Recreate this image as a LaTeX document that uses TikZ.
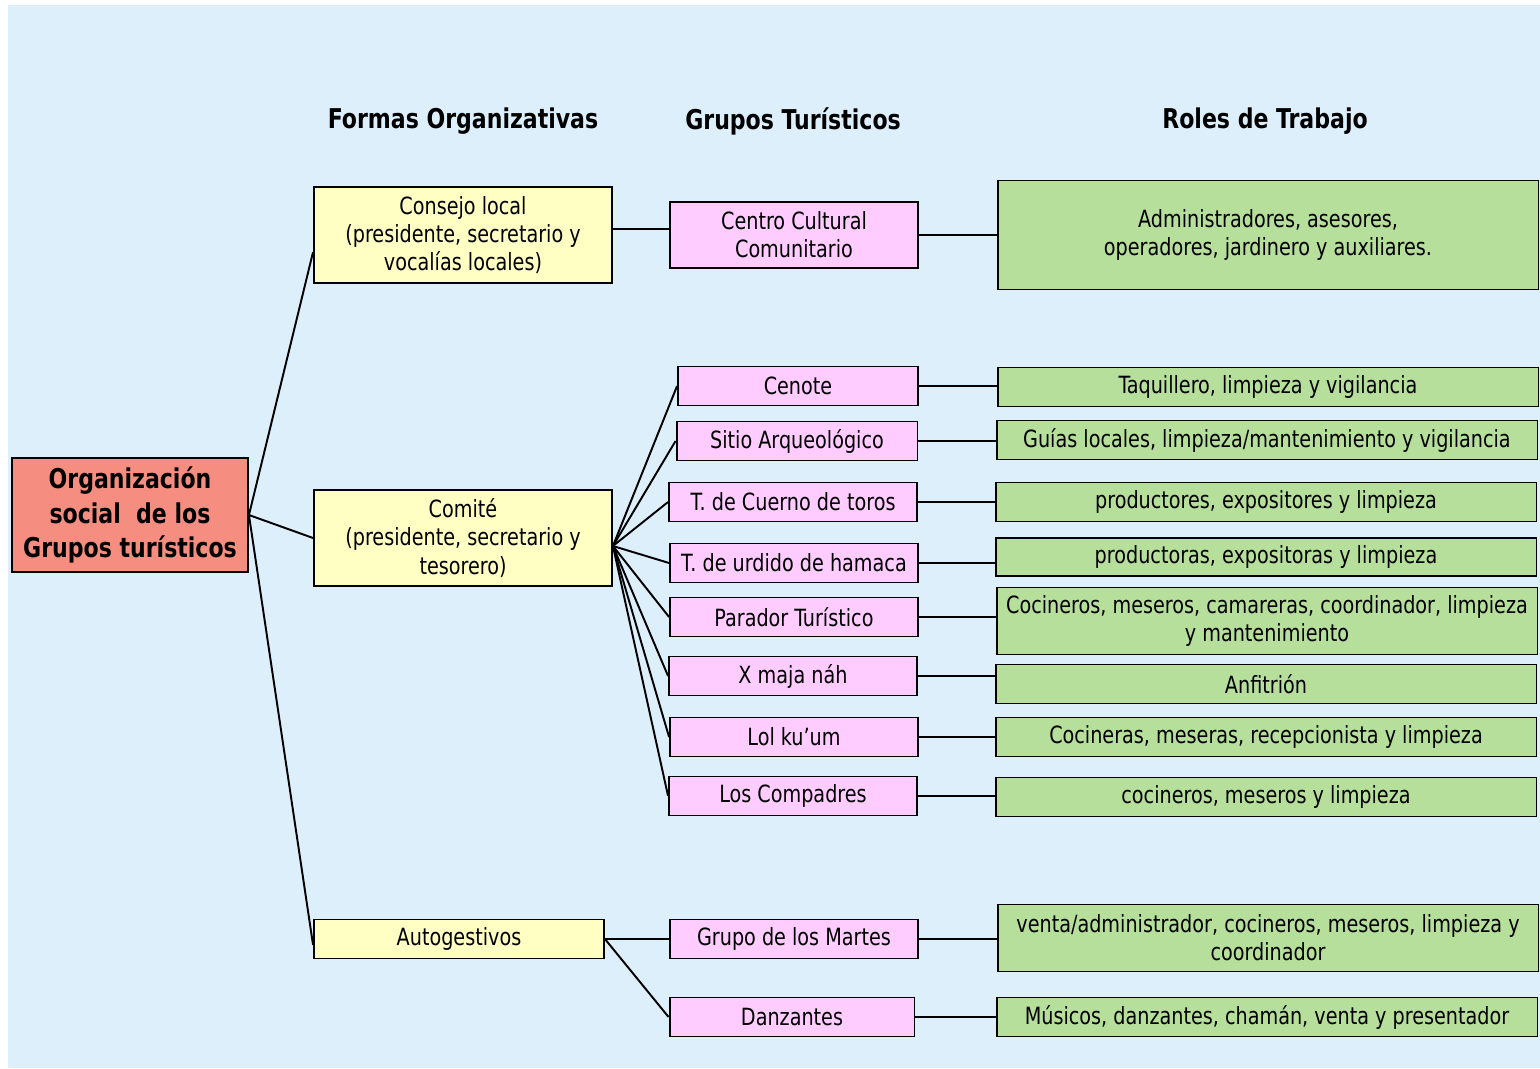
\documentclass[tikz,border=0pt]{standalone}
\usepackage{fontspec}
\setmainfont{DejaVu Sans Condensed}[FakeStretch=0.9]
\usepackage{xcolor}
\usetikzlibrary{positioning}

\definecolor{fondo}{HTML}{DEEFFC}
\definecolor{raizcol}{HTML}{F58D80}
\definecolor{formacol}{HTML}{FFFFC4}
\definecolor{grupocol}{HTML}{FFCCFF}
\definecolor{rolcol}{HTML}{B7DF9C}

\begin{document}
\begin{tikzpicture}
    [x=0.02cm, y=-0.02cm,
      every node/.style={draw, line width=1.1pt, inner sep=2pt, align=center,
        font=\fontsize{13.5}{16}\selectfont},
      titulo/.style={draw=none, font=\bfseries\fontsize{15.5}{19}\selectfont},
      raiz/.style={fill=raizcol, minimum width=4.72cm, minimum height=2.28cm,
        font=\bfseries\fontsize{15.5}{19.5}\selectfont},
      forma/.style={fill=formacol, minimum width=5.96cm, minimum height=0.78cm},
      grupo/.style={fill=grupocol, minimum width=4.96cm, minimum height=0.78cm},
      rol/.style={fill=rolcol, minimum width=10.82cm, minimum height=0.78cm},
      enlace/.style={line width=1.1pt}]
    % fondo
    \useasboundingbox (0,0) rectangle (1540,1068);
    \fill[fondo] (8,5) rectangle (1540,1068);

    % titulos
    \node[titulo] (tforma) at (463,121) {Formas Organizativas};
    \node[titulo] (tgrupo) at (793,121) {Grupos Turísticos};
    \node[titulo] (trol) at (1265,121) {Roles de Trabajo};

    % raiz y formas
    \node[raiz] (raiz) at (130,515) {Organización\\social\ \ de los\\Grupos turísticos};
    \node[forma, minimum height=1.92cm] (consejo) at (463,235)
      {Consejo local\\(presidente, secretario y\\vocalías locales)};
    \node[forma, minimum height=1.92cm] (comite) at (463,538)
      {Comité\\(presidente, secretario y\\tesorero)};
    \node[forma, minimum width=5.8cm] (autog) at (459,939) {Autogestivos};

    % grupos
    \node[grupo, minimum height=1.32cm] (centro) at (794,235) {Centro Cultural\\Comunitario};
    \node[grupo, minimum width=4.8cm] (cenote) at (798,386) {Cenote};
    \node[grupo, minimum width=4.82cm] (sitio) at (797,441) {Sitio Arqueológico};
    \node[grupo] (cuerno) at (793,502) {T. de Cuerno de toros};
    \node[grupo] (hamaca) at (794,563) {T. de urdido de hamaca};
    \node[grupo] (parador) at (794,617) {Parador Turístico};
    \node[grupo] (xmaja) at (793,676) {X maja náh};
    \node[grupo] (lolkuum) at (794,737) {Lol ku’um};
    \node[grupo] (compadres) at (793,796) {Los Compadres};
    \node[grupo] (martes) at (794,939) {Grupo de los Martes};
    \node[grupo, minimum width=4.9cm] (danzantes) at (792,1017) {Danzantes};

    % roles
    \node[rol, minimum height=2.18cm] (admin) at (1268,235)
      {Administradores, asesores,\\operadores, jardinero y auxiliares.};
    \node[rol] (taquillero) at (1268,387) {Taquillero, limpieza y vigilancia};
    \node[rol] (guias) at (1267,440) {Guías locales, limpieza/mantenimiento y vigilancia};
    \node[rol] (productores) at (1266,502) {productores, expositores y limpieza};
    \node[rol, minimum height=0.76cm] (productoras) at (1266,557) {productoras, expositoras y limpieza};
    \node[rol, minimum height=1.34cm] (cocineros) at (1267,621)
      {Cocineros, meseros, camareras, coordinador, limpieza\\y mantenimiento};
    \node[rol] (anfitrion) at (1266,684) {Anfitrión};
    \node[rol] (cocineras) at (1266,737) {Cocineras, meseras, recepcionista y limpieza};
    \node[rol] (cocineros2) at (1266,797) {cocineros, meseros y limpieza};
    \node[rol, minimum height=1.34cm] (venta) at (1268,938)
      {venta/administrador, cocineros, meseros, limpieza y\\coordinador};
    \node[rol] (musicos) at (1267,1017) {Músicos, danzantes, chamán, venta y presentador};

    % conectores
    \draw[enlace] (raiz.east) -- ([yshift=-0.34cm]consejo.west);
    \draw[enlace] (raiz.east) -- (comite.west);
    \draw[enlace] (raiz.east) -- ([yshift=-0.12cm]autog.west);
    \draw[enlace] ([yshift=0.12cm]consejo.east) -- ([yshift=0.12cm]centro.west);
    \foreach \g in {cenote,sitio,cuerno,hamaca,parador,xmaja,lolkuum,compadres}
      \draw[enlace] ([yshift=-0.16cm]comite.east) -- (\g.west);
    \draw[enlace] (autog.east) -- (martes.west);
    \draw[enlace] (autog.east) -- (danzantes.west);
    \foreach \g/\r in {centro/admin,cenote/taquillero,sitio/guias,cuerno/productores,
        hamaca/productoras,parador/cocineros,xmaja/anfitrion,lolkuum/cocineras,
        compadres/cocineros2,martes/venta,danzantes/musicos}
      \draw[enlace] (\g.east) -- (\g.east -| \r.west);
\end{tikzpicture}
\end{document}
